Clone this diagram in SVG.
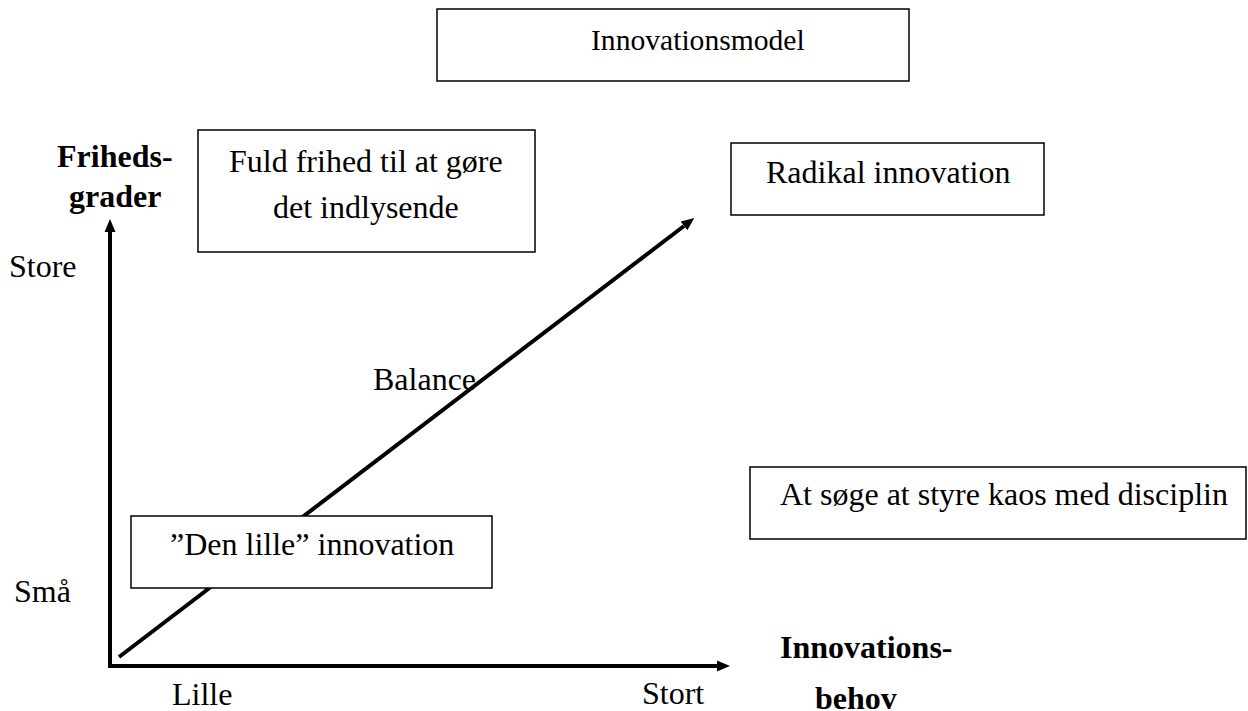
<svg xmlns="http://www.w3.org/2000/svg" width="1248" height="711" viewBox="0 0 1248 711">
<style>
.box{fill:#fff;stroke:#000;stroke-width:1.5}
.t{font-family:"Liberation Serif","DejaVu Serif",serif;font-size:32px;fill:#000}
.b{font-weight:bold}
.ax{stroke:#000;stroke-width:4;fill:none}
</style>
<defs>
<marker id="ah" markerUnits="userSpaceOnUse" markerWidth="14" markerHeight="12" refX="0" refY="6" orient="auto">
<path d="M0,0.5 L13,6 L0,11.5 z" fill="#000"/>
</marker>
</defs>
<rect width="1248" height="711" fill="#fff"/>
<g id="connectors">
<line class="ax" x1="110" y1="666" x2="110" y2="232" marker-end="url(#ah)"/>
<line class="ax" x1="108" y1="666" x2="717" y2="666" marker-end="url(#ah)"/>
<line class="ax" x1="119" y1="657" x2="684" y2="226" marker-end="url(#ah)"/>
</g>
<g id="title">
<rect class="box" x="437" y="9" width="472" height="72"/>
<text class="t" x="591" y="50" style="font-size:29.6px">Innovationsmodel</text>
</g>
<g id="fuld">
<rect class="box" x="198" y="130" width="337" height="122"/>
<text class="t" x="229" y="172">Fuld frihed til at gøre</text>
<text class="t" x="273" y="218">det indlysende</text>
</g>
<g id="radikal">
<rect class="box" x="731" y="143" width="313" height="72"/>
<text class="t" x="766" y="183">Radikal innovation</text>
</g>
<g id="kaos">
<rect class="box" x="750" y="467" width="496" height="72"/>
<text class="t" x="780" y="505">At søge at styre kaos med disciplin</text>
</g>
<g id="denlille">
<rect class="box" x="131" y="516" width="361" height="72"/>
<text class="t" x="170" y="555">”Den lille” innovation</text>
</g>
<g id="labels">
<text class="t b" x="57" y="167">Friheds-</text>
<text class="t b" x="69" y="207">grader</text>
<text class="t" x="9" y="277">Store</text>
<text class="t" x="14" y="602">Små</text>
<text class="t" x="172" y="705">Lille</text>
<text class="t" x="642" y="704">Stort</text>
<text class="t b" x="780" y="658">Innovations-</text>
<text class="t b" x="815" y="709">behov</text>
<text class="t" x="373" y="390">Balance</text>
</g>
</svg>
